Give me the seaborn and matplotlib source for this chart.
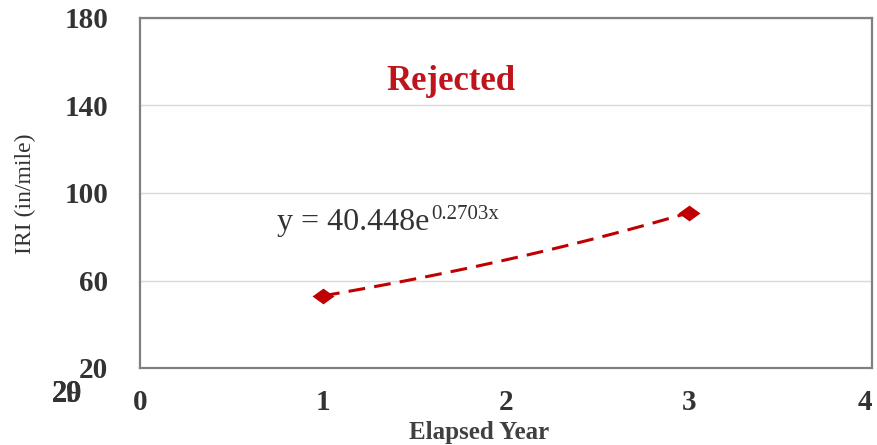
import numpy as np
import pandas as pd
import matplotlib
matplotlib.use("Agg")
import matplotlib.pyplot as plt
import seaborn as sns

years = [1, 3]
iri = [53.0, 91.0]
eq_base = "y = 40.448e"
eq_power = "0.2703x"
status = "Rejected"
yticks = [20, 60, 100, 140, 180]
xticks = [0, 1, 2, 3, 4]

sns.set_style("white")
plt.rcParams['font.family'] = ['Liberation Serif', 'DejaVu Serif']

df = pd.DataFrame({"year": years, "iri": iri})

# exponential trendline, fit the same way as the spreadsheet does
b, ln_a = np.polyfit(df["year"], np.log(df["iri"]), 1)
xs = np.linspace(min(years), max(years), 60)
trend = pd.DataFrame({"year": xs, "iri": np.exp(ln_a) * np.exp(b * xs)})

fig = plt.figure(figsize=(8.77, 4.45), dpi=100)
ax = fig.add_axes([140/877, 1-368/445, 732/877, 350/445])

red = "#c00000"
sns.lineplot(data=trend, x="year", y="iri", ax=ax, color=red, lw=2.2,
             dashes=False, zorder=2)
ax.lines[-1].set_dashes((5.5, 3))

diamond = [(-1, 0), (0, 0.72), (1, 0), (0, -0.72), (-1, 0)]
sns.scatterplot(data=df, x="year", y="iri", ax=ax, marker=diamond, s=250,
                color=red, edgecolor=red, linewidth=0, zorder=3)

ax.set_xlim(0, 4)
ax.set_ylim(20, 180)
ax.set_xticks(xticks)
ax.set_yticks(yticks)
ax.grid(axis="y", color="#d9d9d9", lw=1)
ax.grid(axis="x", visible=False)
for sp in ax.spines.values():
    sp.set_color("#808080")
    sp.set_linewidth(1.6)

ax.tick_params(axis="both", length=0, labelcolor="#333333", labelsize=21)
ax.tick_params(axis="x", pad=15)
ax.tick_params(axis="y", pad=23)
for lab in ax.get_xticklabels() + ax.get_yticklabels():
    lab.set_fontweight("bold")
# last x label sits against the right edge in the original
ax.get_xticklabels()[-1].set_horizontalalignment("right")

ax.set_ylabel("IRI (in/mile)", fontsize=17, color="#333333", va="center")
ax.yaxis.set_label_coords((25-140)/732, (368-194)/350)
ax.set_xlabel("Elapsed Year", fontsize=18, fontweight="bold", color="#404040",
              va="baseline")
ax.xaxis.set_label_coords((479-140)/732, (368-439)/350)

ax.text((451-140)/732, (368-90)/350, status, transform=ax.transAxes,
        ha="center", va="baseline", fontsize=25, fontweight="bold",
        color="#c0141c")
base = ax.text((277-140)/732, (368-230)/350, eq_base, transform=ax.transAxes,
               ha="left", va="baseline", fontsize=23, color="#333333")
fig.canvas.draw()
bb = base.get_window_extent().transformed(ax.transAxes.inverted())
ax.text(bb.x1 + 0.002, (368-219)/350, eq_power, transform=ax.transAxes,
        ha="left", va="baseline", fontsize=15, color="#333333")

# stray overlapping labels in the corner of the original
for s in ["20", "29"]:
    fig.text(52/877, 1-402/445, s, ha="left", va="baseline", fontsize=22,
             fontweight="bold", color="#333333")

fig.savefig("out.png", dpi=100)
